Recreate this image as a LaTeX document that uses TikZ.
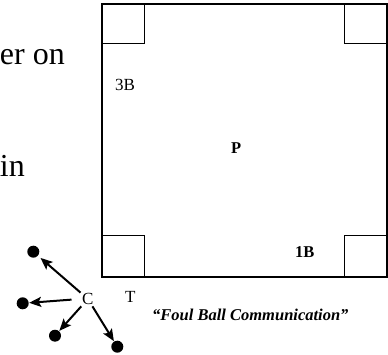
\documentclass[tikz,border=0pt]{standalone}
\usepackage{fontspec}
\setmainfont{Liberation Serif}
\usetikzlibrary{arrows.meta}

\begin{document}
\begin{tikzpicture}[
        x=1pt, y=-1pt,
        field/.style={draw=black, line width=2pt},
        basebox/.style={draw=black, line width=1.4pt},
        lbl/.style={anchor=base west, inner sep=0pt, font=\fontsize{17}{17}\selectfont},
        boldlbl/.style={lbl, font=\fontsize{16.5}{16.5}\selectfont\bfseries},
        bigtext/.style={anchor=base east, inner sep=0pt, font=\fontsize{32}{32}\selectfont},
        player/.style={circle, fill=black, minimum size=12pt, inner sep=0pt, outer sep=0.5pt},
        arrow/.style={-{Stealth[length=12pt, width=10pt, inset=2.5pt]}, line width=2pt, draw=black}
    ]
        \useasboundingbox (0,0) rectangle (388,355);

        % --- LEFTOVER TEXT ---
        \node[bigtext] (texton) at (65,65) {er on};
        \node[bigtext] (textin) at (25,177) {in};

        % --- FIELD ---
        \draw[field] (102,4) rectangle (386.7,277.3);
        \draw[basebox] (102,4) rectangle (144.3,43.7);
        \draw[basebox] (344.3,4) rectangle (386.7,43.7);
        \draw[basebox] (102,235.7) rectangle (144.3,277.3);
        \draw[basebox] (344.3,235.7) rectangle (386.7,277.3);

        % --- POSITIONS ---
        \node[lbl] (third) at (115,91) {3B};
        \node[boldlbl] (pitcher) at (231,154) {P};
        \node[boldlbl] (first) at (295,258) {1B};
        \node[lbl] (third2) at (125,302) {T};
        \node[lbl, inner sep=1.5pt] (catcher) at (80.5,304.5) {C};
        \node[lbl, font=\fontsize{16.5}{16.5}\selectfont\bfseries\itshape] (caption) at (152,320) {``Foul Ball Communication''};

        % --- FIELDERS ---
        \node[player, outer sep=3.5pt] (d1) at (33.3,251.7) {};
        \node[player] (d2) at (22.7,303.3) {};
        \node[player] (d3) at (55,335.7) {};
        \node[player] (d4) at (117.3,346.7) {};

        % --- CALLS ---
        \draw[arrow] (catcher) -- (d1);
        \draw[arrow, shorten <=9pt] (catcher.west) -- (d2);
        \draw[arrow] (catcher) -- (d3);
        \draw[arrow] (catcher) -- (d4);
    \end{tikzpicture}
\end{document}
